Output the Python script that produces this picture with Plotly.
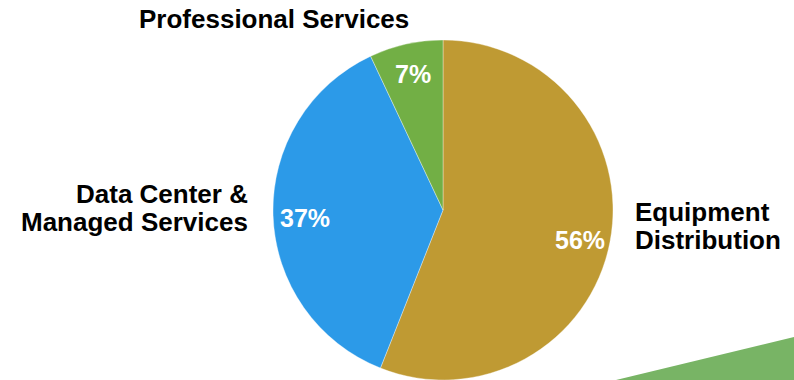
import plotly.graph_objects as go

# Revenue mix by segment
segments = ["Equipment Distribution", "Data Center & Managed Services", "Professional Services"]
shares = [56, 37, 7]
colors = ["#BF9A33", "#2C9AE8", "#72AF45"]

W, H = 794, 380
cx, cy, r = 443, 210, 170  # pie centre and radius in pixels

fig = go.Figure(go.Pie(
    labels=segments,
    values=shares,
    sort=False,
    direction="clockwise",
    rotation=0,
    textinfo="none",
    hoverinfo="label+percent",
    marker=dict(colors=colors, line=dict(color="rgba(255,255,255,0.6)", width=0.6)),
    domain=dict(x=[(cx - r) / W, (cx + r) / W], y=[(H - cy - r) / H, (H - cy + r) / H]),
    showlegend=False,
))

font_lbl = dict(family="Liberation Sans, Arial, sans-serif", size=26, color="#000000")
font_pct = dict(family="Liberation Sans, Arial, sans-serif", size=25, color="#FFFFFF")

# Category labels outside the pie, one annotation per line for tight leading
cat_lines = [
    ("Equipment", 633, 212, "left"),
    ("Distribution", 633, 240, "left"),
    ("Data Center &", 250, 194, "right"),
    ("Managed Services", 250, 222, "right"),
    ("Professional Services", 274, 19, "center"),
]
# Percent labels inside the slices
pct_pos = [(580, 240), (305, 218), (413, 74)]

annotations = []
for text, px, py, anchor in cat_lines:
    annotations.append(dict(
        text="<b>" + text + "</b>", x=px / W, y=1 - py / H,
        xref="paper", yref="paper", xanchor=anchor, yanchor="middle",
        showarrow=False, font=font_lbl,
    ))
for v, (px, py) in zip(shares, pct_pos):
    annotations.append(dict(
        text=f"<b>{v}%</b>", x=px / W, y=1 - py / H,
        xref="paper", yref="paper", xanchor="center", yanchor="middle",
        showarrow=False, font=font_pct,
    ))

# Decorative green wedge in the bottom-right corner
shapes = [dict(
    type="path", xref="paper", yref="paper",
    path=f"M {616 / W} 0 L 1 {1 - 337 / H} L 1 0 Z",
    fillcolor="#78B465", line=dict(width=0), layer="below",
)]

fig.update_layout(
    width=W, height=H,
    margin=dict(l=0, r=0, t=0, b=0),
    paper_bgcolor="white", plot_bgcolor="white",
    annotations=annotations, shapes=shapes,
)

fig.write_html("out.html", config={"displayModeBar": False})
